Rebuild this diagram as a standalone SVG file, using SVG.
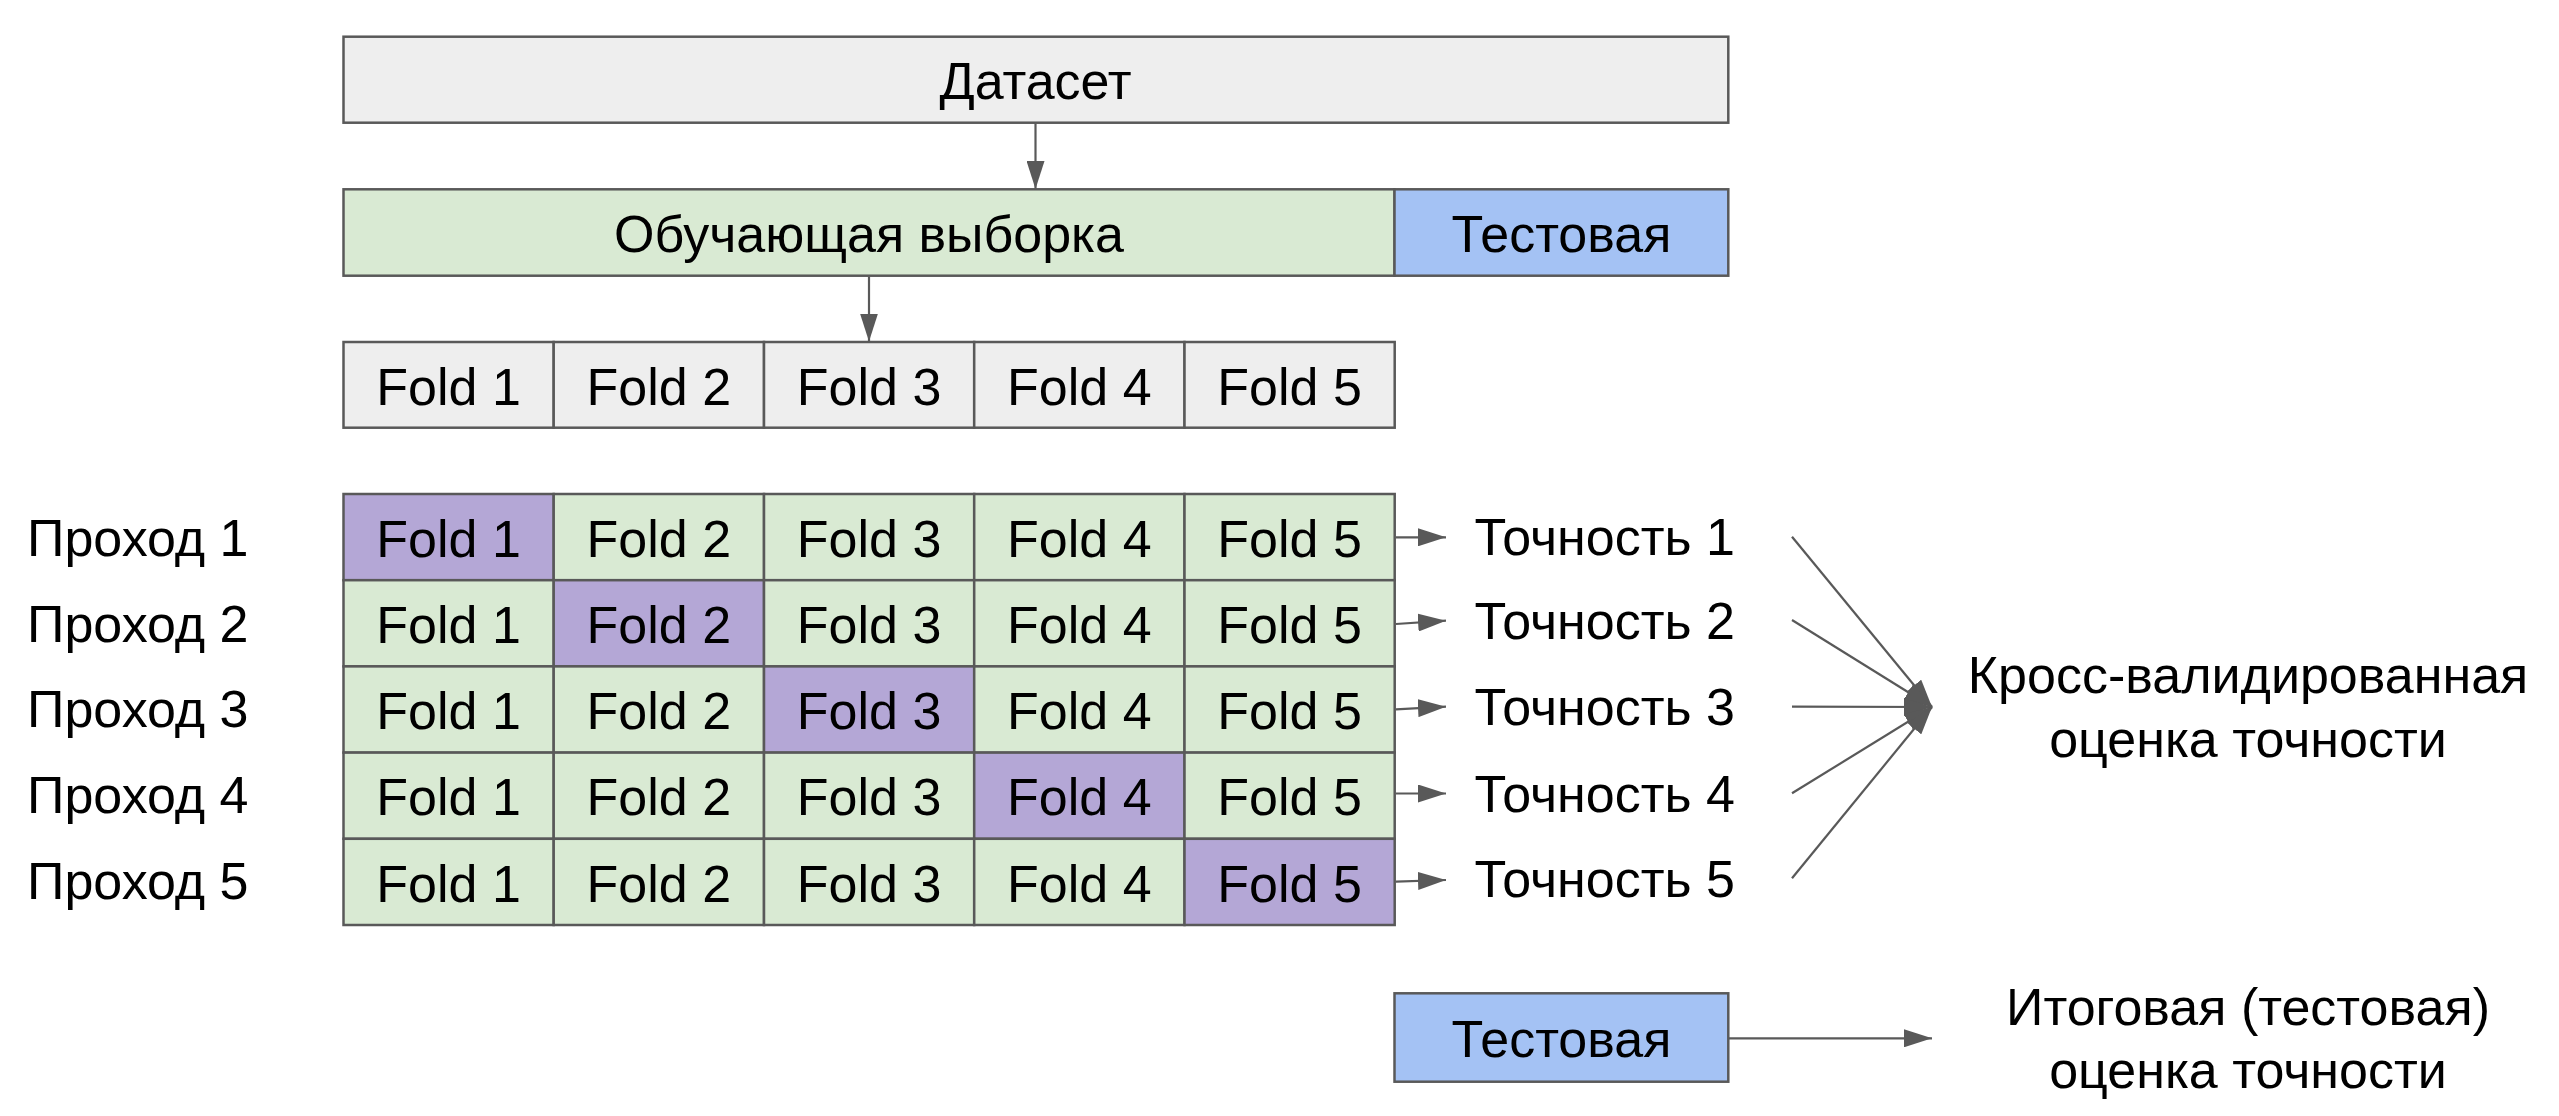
<svg xmlns="http://www.w3.org/2000/svg" width="2559" height="1116" viewBox="0 0 2559 1116">
<defs>
<style>
.box{stroke:#595959;stroke-width:2.5}
.grey{fill:#eeeeee}
.green{fill:#d9ead3}
.blue{fill:#a4c2f4}
.purple{fill:#b4a7d6}
text{font-family:"Liberation Sans",Arial,sans-serif;font-size:52px;fill:#000}
.c{text-anchor:middle}
.conn{stroke:#595959;stroke-width:2.2;fill:none;marker-end:url(#ah)}
</style>
<marker id="ah" viewBox="0 0 28 18" refX="28" refY="9" markerWidth="28" markerHeight="18" markerUnits="userSpaceOnUse" orient="auto">
<path d="M0,0 L28,9 L0,18 z" fill="#595959"/>
</marker>
</defs>
<rect width="2559" height="1116" fill="#ffffff"/>

<g id="dataset">
<rect class="box grey" x="343.5" y="36.7" width="1384.8" height="86"/>
<text class="c" x="1035.5" y="99">Датасет</text>
</g>

<g id="train">
<rect class="box green" x="343.5" y="189.3" width="1051" height="86.4"/>
<text class="c" x="869" y="252">Обучающая выборка</text>
</g>
<g id="test-top">
<rect class="box blue" x="1394.5" y="189.3" width="333.8" height="86.4"/>
<text class="c" x="1561.4" y="252">Тестовая</text>
</g>

<g id="folds">
<rect class="box grey" x="343.5" y="342" width="210.2" height="85.7"/>
<rect class="box grey" x="553.7" y="342" width="210.3" height="85.7"/>
<rect class="box grey" x="764" y="342" width="210.2" height="85.7"/>
<rect class="box grey" x="974.2" y="342" width="210.3" height="85.7"/>
<rect class="box grey" x="1184.5" y="342" width="210.2" height="85.7"/>
<text class="c" x="448.6" y="404.5">Fold 1</text>
<text class="c" x="658.8" y="404.5">Fold 2</text>
<text class="c" x="869.1" y="404.5">Fold 3</text>
<text class="c" x="1079.3" y="404.5">Fold 4</text>
<text class="c" x="1289.6" y="404.5">Fold 5</text>
</g>

<g id="pass1">
<text x="27" y="556">Проход 1</text>
<rect class="box purple" x="343.5" y="494" width="210.2" height="86.2"/>
<rect class="box green" x="553.7" y="494" width="210.3" height="86.2"/>
<rect class="box green" x="764" y="494" width="210.2" height="86.2"/>
<rect class="box green" x="974.2" y="494" width="210.3" height="86.2"/>
<rect class="box green" x="1184.5" y="494" width="210.2" height="86.2"/>
<text class="c" x="448.6" y="557">Fold 1</text>
<text class="c" x="658.8" y="557">Fold 2</text>
<text class="c" x="869.1" y="557">Fold 3</text>
<text class="c" x="1079.3" y="557">Fold 4</text>
<text class="c" x="1289.6" y="557">Fold 5</text>
</g>
<g id="pass2">
<text x="27" y="641.7">Проход 2</text>
<rect class="box green" x="343.5" y="580.2" width="210.2" height="86.2"/>
<rect class="box purple" x="553.7" y="580.2" width="210.3" height="86.2"/>
<rect class="box green" x="764" y="580.2" width="210.2" height="86.2"/>
<rect class="box green" x="974.2" y="580.2" width="210.3" height="86.2"/>
<rect class="box green" x="1184.5" y="580.2" width="210.2" height="86.2"/>
<text class="c" x="448.6" y="643">Fold 1</text>
<text class="c" x="658.8" y="643">Fold 2</text>
<text class="c" x="869.1" y="643">Fold 3</text>
<text class="c" x="1079.3" y="643">Fold 4</text>
<text class="c" x="1289.6" y="643">Fold 5</text>
</g>
<g id="pass3">
<text x="27" y="727">Проход 3</text>
<rect class="box green" x="343.5" y="666.4" width="210.2" height="86.2"/>
<rect class="box green" x="553.7" y="666.4" width="210.3" height="86.2"/>
<rect class="box purple" x="764" y="666.4" width="210.2" height="86.2"/>
<rect class="box green" x="974.2" y="666.4" width="210.3" height="86.2"/>
<rect class="box green" x="1184.5" y="666.4" width="210.2" height="86.2"/>
<text class="c" x="448.6" y="729">Fold 1</text>
<text class="c" x="658.8" y="729">Fold 2</text>
<text class="c" x="869.1" y="729">Fold 3</text>
<text class="c" x="1079.3" y="729">Fold 4</text>
<text class="c" x="1289.6" y="729">Fold 5</text>
</g>
<g id="pass4">
<text x="27" y="813">Проход 4</text>
<rect class="box green" x="343.5" y="752.6" width="210.2" height="86.2"/>
<rect class="box green" x="553.7" y="752.6" width="210.3" height="86.2"/>
<rect class="box green" x="764" y="752.6" width="210.2" height="86.2"/>
<rect class="box purple" x="974.2" y="752.6" width="210.3" height="86.2"/>
<rect class="box green" x="1184.5" y="752.6" width="210.2" height="86.2"/>
<text class="c" x="448.6" y="815.3">Fold 1</text>
<text class="c" x="658.8" y="815.3">Fold 2</text>
<text class="c" x="869.1" y="815.3">Fold 3</text>
<text class="c" x="1079.3" y="815.3">Fold 4</text>
<text class="c" x="1289.6" y="815.3">Fold 5</text>
</g>
<g id="pass5">
<text x="27" y="899">Проход 5</text>
<rect class="box green" x="343.5" y="838.8" width="210.2" height="86.2"/>
<rect class="box green" x="553.7" y="838.8" width="210.3" height="86.2"/>
<rect class="box green" x="764" y="838.8" width="210.2" height="86.2"/>
<rect class="box green" x="974.2" y="838.8" width="210.3" height="86.2"/>
<rect class="box purple" x="1184.5" y="838.8" width="210.2" height="86.2"/>
<text class="c" x="448.6" y="901.5">Fold 1</text>
<text class="c" x="658.8" y="901.5">Fold 2</text>
<text class="c" x="869.1" y="901.5">Fold 3</text>
<text class="c" x="1079.3" y="901.5">Fold 4</text>
<text class="c" x="1289.6" y="901.5">Fold 5</text>
</g>

<g id="acc1"><text x="1474.5" y="555">Точность 1</text></g>
<g id="acc2"><text x="1474.5" y="638.5">Точность 2</text></g>
<g id="acc3"><text x="1474.5" y="725">Точность 3</text></g>
<g id="acc4"><text x="1474.5" y="811.7">Точность 4</text></g>
<g id="acc5"><text x="1474.5" y="896.7">Точность 5</text></g>

<g id="cv-result">
<text class="c" x="2248" y="693.3">Кросс-валидированная</text>
<text class="c" x="2248" y="756.5">оценка точности</text>
</g>

<g id="test-bottom">
<rect class="box blue" x="1394.5" y="993.3" width="333.8" height="88.4"/>
<text class="c" x="1561.4" y="1057">Тестовая</text>
</g>

<g id="final-result">
<text class="c" x="2248" y="1025">Итоговая (тестовая)</text>
<text class="c" x="2248" y="1088.3">оценка точности</text>
</g>

<g id="connectors">
<line class="conn" x1="1035.5" y1="123.5" x2="1035.5" y2="189"/>
<line class="conn" x1="869" y1="276.5" x2="869" y2="341.5"/>
<line class="conn" x1="1396" y1="537.3" x2="1446" y2="537.3"/>
<line class="conn" x1="1396" y1="624" x2="1446" y2="620.7"/>
<line class="conn" x1="1396" y1="709.3" x2="1446" y2="706.7"/>
<line class="conn" x1="1396" y1="793.5" x2="1446" y2="793.5"/>
<line class="conn" x1="1396" y1="881.7" x2="1446" y2="880"/>
<line class="conn" x1="1792" y1="536.7" x2="1932" y2="707"/>
<line class="conn" x1="1792" y1="620" x2="1932" y2="707"/>
<line class="conn" x1="1792" y1="706.7" x2="1932" y2="707"/>
<line class="conn" x1="1792" y1="793.3" x2="1932" y2="707"/>
<line class="conn" x1="1792" y1="878.3" x2="1932" y2="707"/>
<line class="conn" x1="1729" y1="1038.3" x2="1932" y2="1038.3"/>
</g>
</svg>
